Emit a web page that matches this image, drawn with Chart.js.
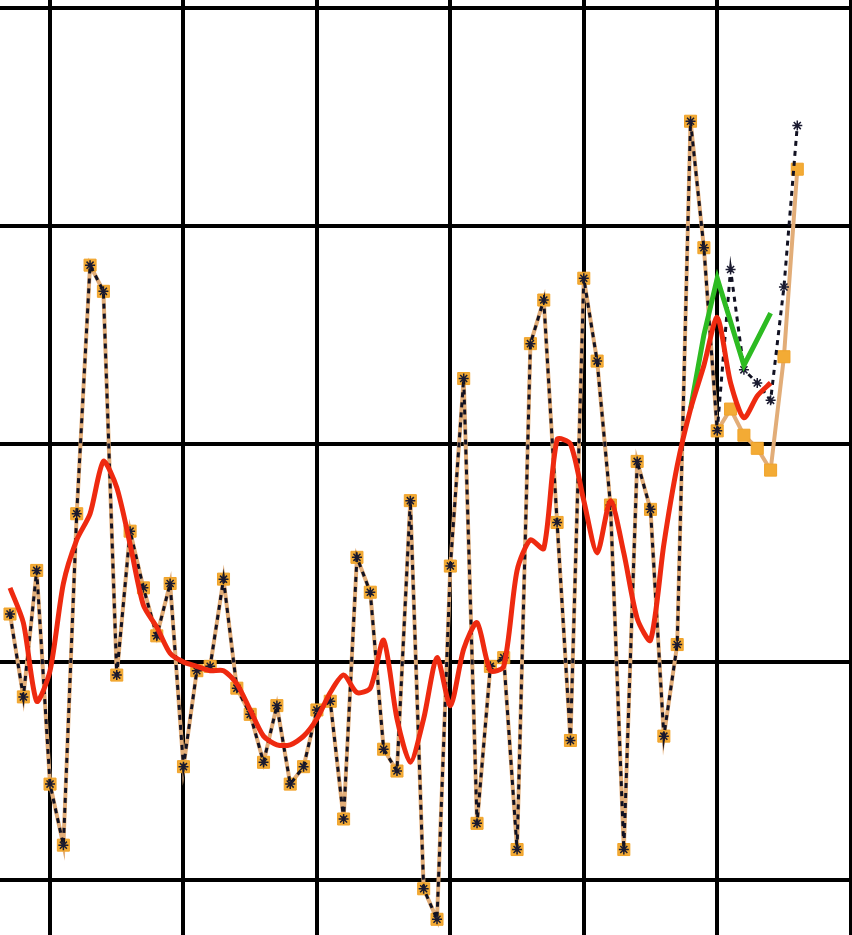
<!DOCTYPE html>
<html>
<head>
<meta charset="utf-8">
<script src="https://cdn.jsdelivr.net/npm/chart.js@4.4.1/dist/chart.umd.min.js"></script>
<style>
  html, body { margin: 0; padding: 0; background: #fff; }
  #chart { display: block; }
</style>
</head>
<body>
<canvas id="chart" width="852" height="935"></canvas>
<script>
// annual values
const years = [1947, 1948, 1949, 1950, 1951, 1952, 1953, 1954, 1955, 1956,
  1957, 1958, 1959, 1960, 1961, 1962, 1963, 1964, 1965, 1966,
  1967, 1968, 1969, 1970, 1971, 1972, 1973, 1974, 1975, 1976,
  1977, 1978, 1979, 1980, 1981, 1982, 1983, 1984, 1985, 1986,
  1987, 1988, 1989, 1990, 1991, 1992, 1993, 1994, 1995, 1996,
  1997, 1998, 1999, 2000, 2001, 2002, 2003, 2004, 2005, 2006];

const rawValues = [-0.39, -0.58, -0.29, -0.78, -0.92, -0.16, 0.41, 0.35, -0.53, -0.20,
  -0.33, -0.44, -0.32, -0.74, -0.52, -0.51, -0.31, -0.56, -0.62, -0.73,
  -0.60, -0.78, -0.74, -0.61, -0.59, -0.86, -0.26, -0.34, -0.70, -0.75,
  -0.13, -1.02, -1.09, -0.28, 0.15, -0.87, -0.51, -0.49, -0.93, 0.23,
  0.33, -0.18, -0.68, 0.38, 0.19, -0.14, -0.93, -0.04, -0.15, -0.67,
  -0.46, 0.74, 0.45, 0.03, 0.08, 0.02, -0.01, -0.06, 0.20, 0.63];

const adjustedValues = [-0.39, -0.58, -0.29, -0.78, -0.92, -0.16, 0.41, 0.35, -0.53, -0.20,
  -0.33, -0.44, -0.32, -0.74, -0.52, -0.51, -0.31, -0.56, -0.62, -0.73,
  -0.60, -0.78, -0.74, -0.61, -0.59, -0.86, -0.26, -0.34, -0.70, -0.75,
  -0.13, -1.02, -1.09, -0.28, 0.15, -0.87, -0.51, -0.49, -0.93, 0.23,
  0.33, -0.18, -0.68, 0.38, 0.19, -0.14, -0.93, -0.04, -0.15, -0.67,
  -0.46, 0.74, 0.45, 0.03, 0.40, 0.17, 0.14, 0.10, 0.36, 0.73];

// running means
const smoothYears = years.slice(0, 58);
const rawSmooth = [-0.33, -0.41, -0.59, -0.52, -0.32, -0.22, -0.16, -0.04, -0.10, -0.23,
  -0.37, -0.42, -0.48, -0.50, -0.51, -0.52, -0.52, -0.55, -0.61, -0.67,
  -0.69, -0.69, -0.67, -0.63, -0.57, -0.53, -0.57, -0.56, -0.45, -0.63,
  -0.73, -0.63, -0.49, -0.60, -0.47, -0.41, -0.52, -0.51, -0.29, -0.22,
  -0.24, 0.01, 0.00, -0.13, -0.25, -0.13, -0.25, -0.40, -0.45, -0.23,
  -0.05, 0.08, 0.18, 0.29, 0.14, 0.06, 0.11, 0.14];

const adjustedSmoothYears = [1998, 1999, 2000, 2001, 2002, 2003, 2004];
const adjustedSmooth = [0.08, 0.25, 0.38, 0.28, 0.18, 0.24, 0.30];

const xGrid = [1950, 1960, 1970, 1980, 1990, 2000, 2010];
const yGrid = [-1, -0.5, 0, 0.5, 1];

function pairs(xs, ys) {
  return ys.map((v, i) => ({ x: xs[i], y: v }));
}

new Chart(document.getElementById('chart'), {
  type: 'line',
  data: {
    datasets: [
      {
        label: 'smoothed',
        data: pairs(smoothYears, rawSmooth),
        borderColor: '#ee2a10',
        borderWidth: 5,
        pointRadius: 0,
        tension: 0.25
      },
      {
        label: 'adjusted smoothed',
        data: pairs(adjustedSmoothYears, adjustedSmooth),
        borderColor: '#2dbb22',
        borderWidth: 5,
        pointRadius: 0,
        tension: 0
      },
      {
        label: 'adjusted',
        data: pairs(years, adjustedValues),
        borderColor: '#111122',
        borderWidth: 3,
        borderDash: [5, 5],
        pointStyle: 'star',
        pointRadius: 5,
        pointBorderWidth: 1.5,
        pointBorderColor: '#1a1a30',
        pointBackgroundColor: '#1a1a30'
      },
      {
        label: 'raw',
        data: pairs(years, rawValues),
        borderColor: '#e2ad78',
        borderWidth: 4,
        pointStyle: 'rect',
        pointRadius: 8.5,
        pointBorderWidth: 1,
        pointBorderColor: '#f0a32a',
        pointBackgroundColor: '#f3ab35'
      }
    ]
  },
  options: {
    responsive: false,
    animation: false,
    layout: { padding: 0, autoPadding: false },
    plugins: {
      legend: { display: false },
      tooltip: { enabled: false }
    },
    scales: {
      x: {
        type: 'linear',
        min: 1946.25,
        max: 2010.1,
        afterBuildTicks: axis => { axis.ticks = xGrid.map(v => ({ value: v })); },
        ticks: { display: false },
        grid: { color: '#000', lineWidth: 4, drawTicks: false },
        border: { display: false }
      },
      y: {
        min: -1.126,
        max: 1.018,
        afterBuildTicks: axis => { axis.ticks = yGrid.map(v => ({ value: v })); },
        ticks: { display: false },
        grid: { color: '#000', lineWidth: 4, drawTicks: false },
        border: { display: false }
      }
    }
  }
});
</script>
</body>
</html>
